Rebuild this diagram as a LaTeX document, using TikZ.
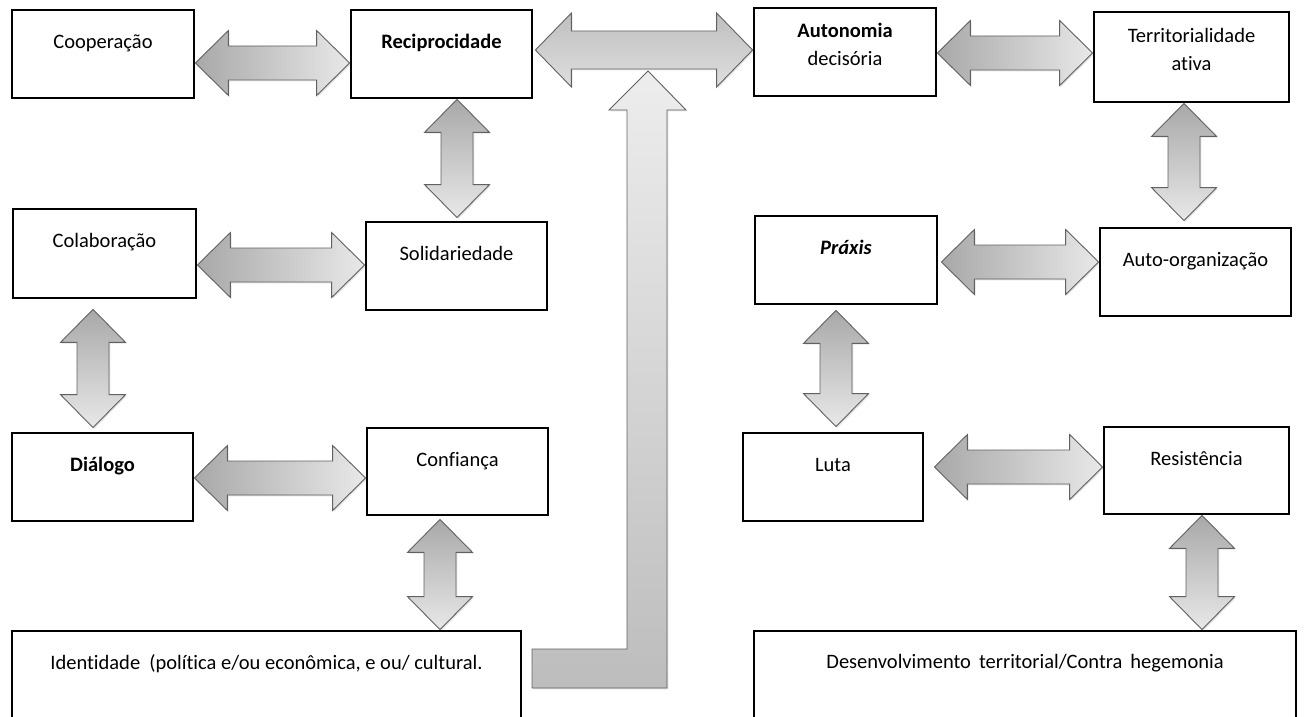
\documentclass[tikz,border=0pt]{standalone}
\usepackage{fontspec}
\setmainfont{Carlito}[Ligatures=NoCommon]
\usetikzlibrary{calc,shadows}
\pgfdeclarelayer{bg}
\pgfdeclarelayer{paper}
\pgfsetlayers{paper,bg,main}

% horizontal block double arrow between two anchors, on axis y (#3), with end gaps #4/#5
\newcommand\hdblarrow[5]{%
  \draw[harr] let \p1=(#1), \p2=(#2), \p3=(0,#3) in
    (\x1+#4,\y3) -- (\x1+#4+33pt,\y3+32.5pt) -- (\x1+#4+33pt,\y3+17pt)
    -- (\x2-#5-33pt,\y3+17pt) -- (\x2-#5-33pt,\y3+32.5pt) -- (\x2-#5,\y3)
    -- (\x2-#5-33pt,\y3-32.5pt) -- (\x2-#5-33pt,\y3-17pt)
    -- (\x1+#4+33pt,\y3-17pt) -- (\x1+#4+33pt,\y3-32.5pt) -- cycle;}

% vertical block double arrow between two anchors, on axis x (#3), with end gaps #4/#5
\newcommand\vdblarrow[5]{%
  \draw[varr] let \p1=(#1), \p2=(#2), \p3=(#3,0) in
    (\x3,\y1-#4) -- (\x3+32.5pt,\y1-#4-33pt) -- (\x3+16pt,\y1-#4-33pt)
    -- (\x3+16pt,\y2+#5+33pt) -- (\x3+32.5pt,\y2+#5+33pt) -- (\x3,\y2+#5)
    -- (\x3-32.5pt,\y2+#5+33pt) -- (\x3-16pt,\y2+#5+33pt)
    -- (\x3-16pt,\y1-#4-33pt) -- (\x3-32.5pt,\y1-#4-33pt) -- cycle;}

\begin{document}
\begin{tikzpicture}[x=1pt,y=-1pt,
  box/.style={draw=black, line width=2.8pt, fill=white, rectangle, inner sep=0pt, line join=miter},
  lbl/.style={anchor=base, inner sep=0pt, font=\fontsize{20.5}{24}\selectfont},
  arr/.style={draw=black!62, line width=0.9pt, line join=miter,
    drop shadow={shadow xshift=1.3pt, shadow yshift=-1.3pt, opacity=0.22}},
  harr/.style={arr, left color=black!34, right color=black!9},
  varr/.style={arr, top color=black!34, bottom color=black!9},
]
\useasboundingbox (0,0) rectangle (1307,717);
\clip (0,0) rectangle (1307,717);
\begin{pgfonlayer}{paper}
  \fill[white] (0,0) rectangle (1307,717);
\end{pgfonlayer}

% boxes
\node[box, minimum width=182pt, minimum height=88pt] (coop)   at (103,54)      {};
\node[box, minimum width=181pt, minimum height=88pt] (recip)  at (441.5,54)    {};
\node[box, minimum width=182pt, minimum height=88pt] (auton)  at (845,52)      {};
\node[box, minimum width=195pt, minimum height=90pt] (terr)   at (1191.5,57)   {};
\node[box, minimum width=183pt, minimum height=89pt] (colab)  at (104.5,253.5) {};
\node[box, minimum width=181pt, minimum height=88pt] (solid)  at (456.5,266)   {};
\node[box, minimum width=182pt, minimum height=88pt] (praxis) at (846,260)     {};
\node[box, minimum width=191pt, minimum height=88pt] (auto)   at (1195.5,272)  {};
\node[box, minimum width=181pt, minimum height=88pt] (dial)   at (102.5,477)   {};
\node[box, minimum width=181pt, minimum height=87pt] (conf)   at (457.5,471.5) {};
\node[box, minimum width=180pt, minimum height=88pt] (luta)   at (833,477)     {};
\node[box, minimum width=185pt, minimum height=87pt] (resist) at (1196.5,470.5){};
\node[box, minimum width=509pt, minimum height=99pt] (ident)  at (266.5,680.5) {};
\node[box, minimum width=542pt, minimum height=99pt] (desenv) at (1025,680.5)  {};

% labels
\node[lbl] (tcoop)   at ([yshift=-40pt]coop.north)   {Cooperação};
\node[lbl] (trecip)  at ([yshift=-40pt]recip.north)  {\textbf{Reciprocidade}};
\node[lbl] (tauton1) at ([yshift=-30.5pt]auton.north)  {\textbf{Autonomia}};
\node[lbl] (tauton2) at ([yshift=-58.5pt]auton.north)  {decisória};
\node[lbl] (tterr1)  at ([yshift=-31.5pt]terr.north)   {Territorialidade};
\node[lbl] (tterr2)  at ([yshift=-59.5pt]terr.north)   {ativa};
\node[lbl] (tcolab)  at ([yshift=-40pt]colab.north)  {Colaboração};
\node[lbl] (tsolid)  at ([yshift=-40pt]solid.north)  {Solidariedade};
\node[lbl] (tpraxis) at ([yshift=-40pt]praxis.north) {\textbf{\textit{Práxis}}};
\node[lbl] (tauto)   at ([yshift=-40pt]auto.north)   {Auto-organização};
\node[lbl] (tdial)   at ([yshift=-40pt]dial.north)   {\textbf{Diálogo}};
\node[lbl] (tconf)   at ([yshift=-40pt]conf.north)   {Confiança};
\node[lbl] (tluta)   at ([yshift=-40pt]luta.north)   {Luta};
\node[lbl] (tresist) at ([yshift=-40pt]resist.north) {Resistência};
\node[lbl] (tident)  at ([yshift=-40pt]ident.north)  {Identidade\ \ (política e/ou econômica, e ou/ cultural.};
\node[lbl] (tdesenv) at ([yshift=-39pt]desenv.north) {Desenvolvimento\, territorial/Contra\, hegemonia};

\begin{pgfonlayer}{bg}
  % L-shaped arrow rising from the identity box to the central double arrow
  \coordinate (lfoot) at (532,649);
  \coordinate (ltip) at (648,71);
  \draw[arr, top color=black!7, bottom color=black!26]
    (lfoot) -- (627,649) -- (627,110) -- (609,110) -- (ltip)
    -- (686,110) -- (667,110) -- (667,688) -- (532,688) -- cycle;

  % central wide double arrow
  \draw[arr, top color=black!25, bottom color=black!13]
    let \p1=(recip.east), \p2=(auton.west), \p3=(0,50) in
    (\x1+2pt,\y3) -- (\x1+38pt,\y3+37pt) -- (\x1+38pt,\y3+19pt)
    -- (\x2-36pt,\y3+19pt) -- (\x2-36pt,\y3+37pt) -- (\x2,\y3)
    -- (\x2-36pt,\y3-37pt) -- (\x2-36pt,\y3-19pt)
    -- (\x1+38pt,\y3-19pt) -- (\x1+38pt,\y3-37pt) -- cycle;

  % horizontal links
  \hdblarrow{coop.east}{recip.west}{63}{0pt}{0pt}
  \hdblarrow{colab.east}{solid.west}{265}{0pt}{0pt}
  \hdblarrow{dial.east}{conf.west}{478}{0pt}{0pt}
  \hdblarrow{auton.east}{terr.west}{53}{0pt}{0pt}
  \hdblarrow{praxis.east}{auto.west}{262}{3pt}{0pt}
  \hdblarrow{luta.east}{resist.west}{467}{10pt}{0pt}

  % vertical links
  \vdblarrow{recip.south}{solid.north}{457}{0pt}{3pt}
  \vdblarrow{colab.south}{dial.north}{93}{10pt}{4pt}
  \vdblarrow{conf.south}{ident.north}{440}{3pt}{0pt}
  \vdblarrow{terr.south}{auto.north}{1184}{0pt}{6pt}
  \vdblarrow{praxis.south}{luta.north}{836}{5pt}{5pt}
  \vdblarrow{resist.south}{desenv.north}{1202}{0pt}{0pt}
\end{pgfonlayer}
\end{tikzpicture}
\end{document}
